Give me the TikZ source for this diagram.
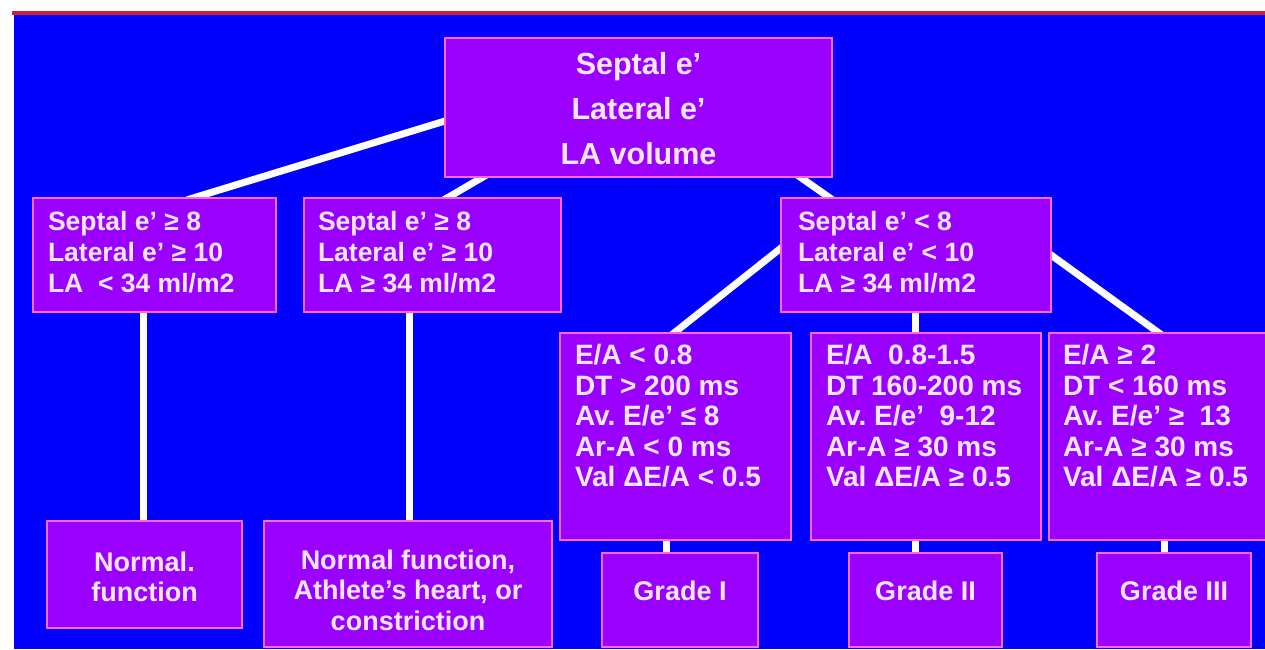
\documentclass[tikz,border=0pt]{standalone}
\usepackage{fontspec}
\setmainfont{Liberation Sans}
\usetikzlibrary{calc}
\frenchspacing
\definecolor{bgblue}{HTML}{0000FF}
\definecolor{boxfill}{HTML}{9900FF}
\definecolor{boxedge}{HTML}{FF66D9}
\definecolor{txtcol}{HTML}{FFE8FF}
\definecolor{topred}{HTML}{D02038}
\pgfdeclarelayer{bg}
\pgfdeclarelayer{lines}
\pgfsetlayers{bg,lines,main}
% #1 width, #2 height, #3 gap above first line, #4 alignment, #5 text
\newcommand{\bcont}[5]{\parbox[c][#2][t]{#1}{\vspace*{#3}#4#5\par}}
\newcommand{\lpad}[1]{\raggedright\leftskip=#1\relax}
\tikzset{
  box/.style={draw=boxedge, line width=1.5pt, fill=boxfill, text=txtcol,
    inner sep=0pt, outer sep=0pt, anchor=north west},
  rootfont/.style={font=\fontsize{30.5}{45.3}\selectfont\bfseries},
  midfont/.style={font=\fontsize{26.5}{31}\selectfont\bfseries},
  lowfont/.style={font=\fontsize{28}{30.5}\selectfont\bfseries},
  leaffont/.style={font=\fontsize{27}{30.5}\selectfont\bfseries},
  conn/.style={draw=white, line width=7pt, shorten <=-6pt, shorten >=-6pt}
}
\begin{document}
\begin{tikzpicture}[x=1pt, y=-1pt]
\useasboundingbox (0,0) rectangle (1265,649);
\clip (0,0) rectangle (1265,649);
\begin{pgfonlayer}{bg}
\fill[white] (0,0) rectangle (1265,649);
\fill[topred] (12,11) rectangle (1265,15);
\fill[bgblue] (14,15) rectangle (1265,649);
\end{pgfonlayer}

% root
\node[box, rootfont] (root) at (445,38)
  {\bcont{387pt}{139pt}{14.2pt}{\centering}{Septal e'\\Lateral e'\\LA volume}};

% second level
\node[box, midfont] (A) at (33,198)
  {\bcont{243pt}{114pt}{13.7pt}{\lpad{15pt}}{Septal e' ≥ 8\\Lateral e' ≥ 10\\LA~ < 34 ml/m2}};
\node[box, midfont] (B) at (304,198)
  {\bcont{257pt}{114pt}{13.7pt}{\lpad{14pt}}{Septal e' ≥ 8\\Lateral e' ≥ 10\\LA ≥ 34 ml/m2}};
\node[box, midfont] (C) at (781,198)
  {\bcont{270pt}{114pt}{13.7pt}{\lpad{17pt}}{Septal e' < 8\\Lateral e' < 10\\LA ≥ 34 ml/m2}};

% third level
\node[box, lowfont] (D) at (560,333)
  {\bcont{231pt}{207pt}{11.6pt}{\lpad{15pt}}{E/A < 0.8\\DT > 200 ms\\Av. E/e' ≤ 8\\Ar-A < 0 ms\\Val ΔE/A < 0.5}};
\node[box, lowfont] (E) at (811,333)
  {\bcont{230pt}{207pt}{11.6pt}{\lpad{15pt}}{E/A~ 0.8-1.5\\DT 160-200 ms\\Av. E/e'~ 9-12\\Ar-A ≥ 30 ms\\Val ΔE/A ≥ 0.5}};
\node[box, lowfont] (F) at (1049,333)
  {\bcont{230pt}{207pt}{11.6pt}{\lpad{14pt}}{E/A ≥ 2\\DT < 160 ms\\Av. E/e' ≥~ 13\\Ar-A ≥ 30 ms\\Val ΔE/A ≥ 0.5}};

% leaves
\node[box, leaffont] (normal) at (47,521)
  {\bcont{195pt}{107pt}{30.7pt}{\centering}{Normal.\\function}};
\node[box, leaffont] (nf) at (264,521)
  {\bcont{288pt}{126pt}{28.7pt}{\centering}{Normal function,\\Athlete's heart, or\\constriction}};
\node[box, leaffont] (g1) at (602,553)
  {\bcont{156pt}{94pt}{27.5pt}{\centering}{Grade I}};
\node[box, leaffont] (g2) at (849,553)
  {\bcont{153pt}{94pt}{27.5pt}{\centering}{Grade II}};
\node[box, leaffont] (g3) at (1097,553)
  {\bcont{154pt}{94pt}{27.5pt}{\centering}{Grade III}};

\begin{pgfonlayer}{lines}
\draw[conn] ($(root.west)+(0,13.5)$) -- ($(A.north)+(38.5,0)$);
\draw[conn] ($(root.south)+(-155.5,0)$) -- ($(B.north)+(14.5,0)$);
\draw[conn] ($(root.south)+(161.5,0)$) -- ($(C.north)+(-86,0)$);
\draw[conn] ($(A.south)+(-11.5,0)$) -- ($(normal.north)+(-1.5,0)$);
\draw[conn] ($(B.south)+(-23.5,0)$) -- ($(nf.north)+(1,0)$);
\draw[conn] ($(C.west)+(0,-7)$) -- ($(D.north)+(-1.5,0)$);
\draw[conn] ($(C.south)+(-1,0)$) -- ($(E.north)+(-11,0)$);
\draw[conn] ($(C.east)+(0,0)$) -- ($(F.north)+(-5,0)$);
\draw[conn] ($(D.south)+(-9.5,0)$) -- ($(g1.north)+(-14,0)$);
\draw[conn] ($(E.south)+(-11,0)$) -- ($(g2.north)+(-10.5,0)$);
\draw[conn] ($(F.south)+(0,0)$) -- ($(g3.north)+(-10,0)$);
\end{pgfonlayer}
\end{tikzpicture}
\end{document}
